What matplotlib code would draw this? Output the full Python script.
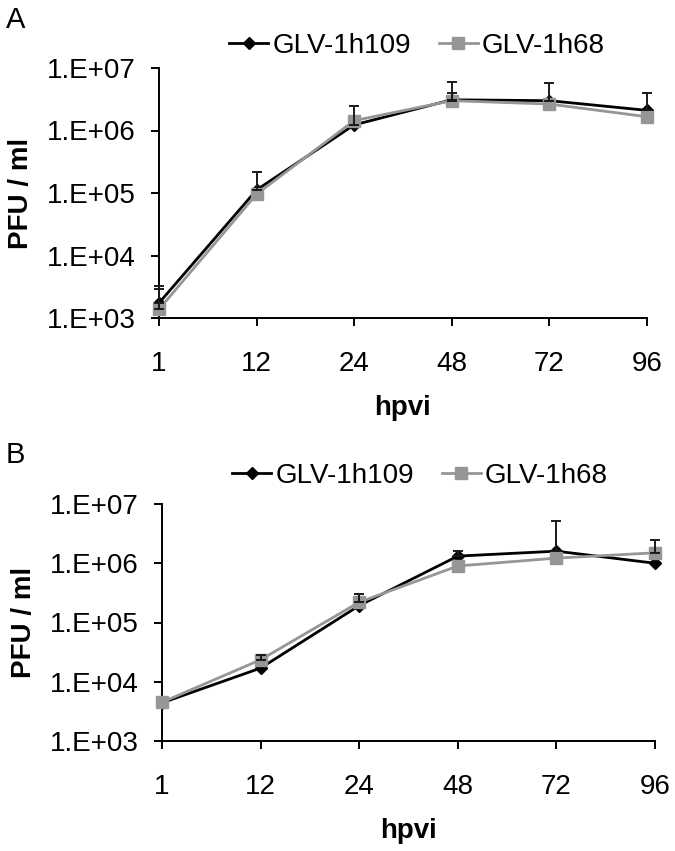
import numpy as np
import matplotlib.pyplot as plt

plt.rcParams['font.family'] = ['Liberation Sans', 'DejaVu Sans']

# data
hours = ['1', '12', '24', '48', '72', '96']
ytick_vals = [1e3, 1e4, 1e5, 1e6, 1e7]
ytick_labels = ['1.E+03', '1.E+04', '1.E+05', '1.E+06', '1.E+07']

# panel A
a_h109 = [1.74e3, 1.12e5, 1.23e6, 3.1e6, 3.0e6, 2.1e6]
a_h109_err = [1.46e3, 1.08e5, 1.23e6, 2.9e6, 2.8e6, 1.9e6]
a_h68 = [1.38e3, 9.6e4, 1.44e6, 3.0e6, 2.65e6, 1.66e6]
a_h68_err = [1.5e3, 0, 0, 1.0e6, 0, 0]

# panel B
b_h109 = [4.4e3, 1.7e4, 1.93e5, 1.32e6, 1.6e6, 1.0e6]
b_h109_err = [0, 0, 0, 0.28e6, 3.6e6, 0]
b_h68 = [4.5e3, 2.35e4, 2.2e5, 9.0e5, 1.22e6, 1.5e6]
b_h68_err = [0, 4.5e3, 8e4, 0, 0, 1.0e6]

GRAY = '#969696'
FS = 20


def panel(ax, v1, e1, v2, e2):
    x = np.arange(len(hours))
    l1, = ax.plot(x, v1, color='black', lw=2, marker='D', ms=6.5,
                  label='GLV-1h109', zorder=3, clip_on=False)
    l2, = ax.plot(x, v2, color=GRAY, lw=2, marker='s', ms=8,
                  label='GLV-1h68', zorder=4, clip_on=False)
    for v, e in ((v1, e1), (v2, e2)):
        v = np.array(v); e = np.array(e)
        m = e > 0
        ax.errorbar(x[m], v[m], yerr=[np.zeros(m.sum()), e[m]], fmt='none',
                    ecolor='#1a1a1a', elinewidth=1.4, capsize=3.5,
                    capthick=1.4, zorder=5, clip_on=False)
    ax.set_yscale('log')
    ax.set_ylim(1e3, 1e7)
    ax.set_xlim(0, len(hours) - 1)
    ax.set_yticks(ytick_vals)
    ax.set_yticklabels(ytick_labels)
    ax.minorticks_off()
    ax.set_xticks(x)
    ax.set_xticklabels(hours)
    for s in ['top', 'right']:
        ax.spines[s].set_visible(False)
    for s in ['left', 'bottom']:
        ax.spines[s].set_linewidth(1.4)
    ax.tick_params(axis='y', direction='out', length=6, width=1.4,
                   labelsize=FS, pad=11)
    ax.tick_params(axis='x', direction='out', length=6, width=1.4,
                   labelsize=FS, pad=18)
    ax.set_ylabel('PFU / ml', fontsize=FS, fontweight='bold', labelpad=9)
    ax.set_xlabel('hpvi', fontsize=FS, fontweight='bold', labelpad=13)
    return l1, l2


fig = plt.figure(figsize=(6.75, 8.51), dpi=100)

axA = fig.add_axes([159 / 675, 1 - 318 / 851, (647 - 159) / 675, (318 - 68) / 851])
hA = panel(axA, a_h109, a_h109_err, a_h68, a_h68_err)
fig.legend(handles=hA, loc='center', bbox_to_anchor=(417 / 675, 1 - 46 / 851),
           ncol=2, frameon=False, fontsize=FS, handlelength=1.4,
           handletextpad=0.15, columnspacing=1.0)

axB = fig.add_axes([162 / 675, 1 - 741 / 851, (655 - 162) / 675, (741 - 504) / 851])
hB = panel(axB, b_h109, b_h109_err, b_h68, b_h68_err)
fig.legend(handles=hB, loc='center', bbox_to_anchor=(420 / 675, 1 - 476 / 851),
           ncol=2, frameon=False, fontsize=FS, handlelength=1.4,
           handletextpad=0.15, columnspacing=1.0)

fig.text(6 / 675, 1 - 20 / 851, 'A', fontsize=21, va='center', ha='left')
fig.text(6 / 675, 1 - 455 / 851, 'B', fontsize=21, va='center', ha='left')

fig.savefig('out.png', dpi=100)
